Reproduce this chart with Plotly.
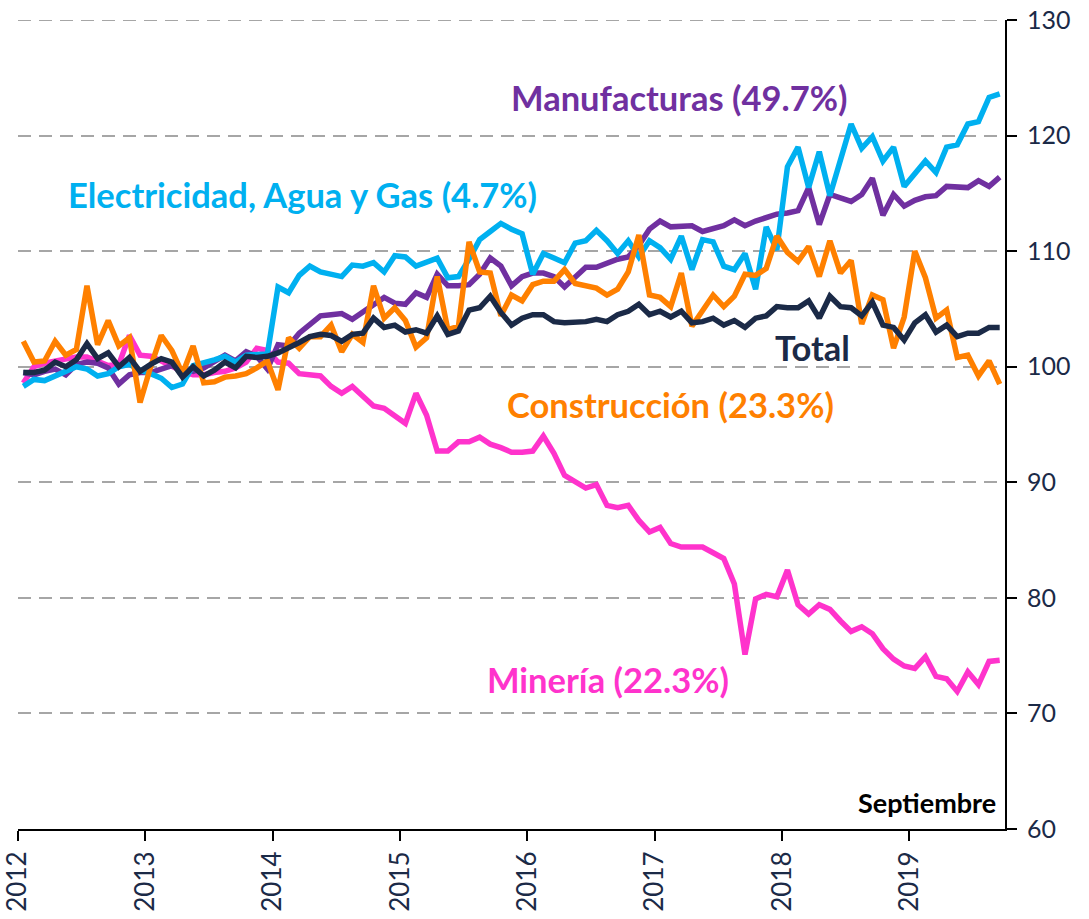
import plotly.graph_objects as go

years = ["2012", "2013", "2014", "2015", "2016", "2017", "2018", "2019"]
n_months = 93  # Jan 2012 .. Sep 2019

total = [99.5, 99.5, 99.7, 100.4, 100.0, 100.6, 102.0, 100.7, 101.2, 100.0,
         100.8, 99.6, 100.2, 100.7, 100.4, 99.1, 100.0, 99.2, 99.7, 100.4,
         99.9, 100.9, 100.8, 100.9, 101.2, 101.6, 102.1, 102.6, 102.8, 102.7,
         102.2, 102.8, 102.9, 104.2, 103.4, 103.6, 103.0, 103.2, 102.9, 104.4,
         102.8, 103.1, 104.9, 105.1, 106.1, 104.7, 103.6, 104.2, 104.5, 104.5,
         103.9, 103.8, 103.8, 103.9, 104.1, 103.9, 104.5, 104.8, 105.4, 104.5,
         104.8, 104.3, 104.8, 103.8, 103.9, 104.2, 103.6, 104.0, 103.4, 104.2,
         104.4, 105.2, 105.1, 105.1, 105.7, 104.2, 106.1, 105.2, 105.1, 104.4,
         105.6, 103.6, 103.4, 102.3, 103.8, 104.5, 103.0, 103.6, 102.6, 102.9,
         102.9, 103.4, 103.4]

manufacturas = [99.5, 99.3, 99.6, 99.8, 99.3, 100.2, 100.4, 100.3, 99.9, 98.5,
                99.3, 99.5, 99.5, 99.8, 100.1, 99.8, 99.6, 99.9, 100.5, 101.0,
                100.5, 101.3, 100.9, 99.8, 101.9, 101.8, 102.9, 103.6, 104.4, 104.5,
                104.6, 104.1, 104.7, 105.4, 106.0, 105.5, 105.4, 106.4, 106.0, 108.0,
                107.0, 107.0, 107.1, 108.0, 109.4, 108.7, 107.0, 107.8, 108.1, 108.1,
                107.8, 106.9, 107.8, 108.6, 108.6, 109.0, 109.3, 109.5, 110.5, 111.9,
                112.6, 112.1, 112.2, 112.2, 111.7, 111.9, 112.2, 112.7, 112.2, 112.6,
                112.9, 113.2, 113.3, 113.5, 115.5, 112.3, 114.9, 114.6, 114.3, 114.9,
                116.3, 113.1, 114.9, 113.9, 114.4, 114.7, 114.8, 115.6, 115.5, 115.5,
                116.1, 115.6, 116.4]

electricidad = [98.3, 98.9, 98.8, 99.2, 99.6, 100.0, 99.8, 99.2, 99.4, 100.0,
                100.2, 99.7, 99.4, 99.0, 98.2, 98.5, 100.1, 100.3, 100.6, 100.9,
                100.4, 101.0, 101.1, 101.1, 106.9, 106.4, 107.9, 108.7, 108.2, 108.0,
                107.8, 108.8, 108.7, 109.0, 108.2, 109.6, 109.5, 108.7, 109.0, 109.4,
                107.7, 107.8, 109.3, 111.0, 111.7, 112.4, 111.9, 111.5, 108.0, 109.8,
                109.4, 109.0, 110.7, 110.9, 111.8, 110.9, 109.8, 110.9, 109.5, 110.9,
                110.3, 109.3, 111.3, 108.4, 111.0, 110.8, 108.7, 108.4, 109.8, 106.7,
                112.1, 110.1, 117.3, 119.0, 115.5, 118.6, 114.8, 117.9, 121.0, 118.9,
                119.9, 117.8, 119.0, 115.6, 116.7, 117.8, 116.8, 119.0, 119.2, 121.0,
                121.2, 123.3, 123.6]

construccion = [102.2, 100.4, 100.5, 102.2, 101.0, 101.5, 107.0, 101.9, 104.0, 101.8,
                102.5, 96.9, 100.0, 102.7, 101.4, 99.4, 101.8, 98.6, 98.7, 99.1,
                99.2, 99.4, 99.9, 100.5, 98.0, 102.5, 101.6, 102.6, 102.6, 103.6,
                101.3, 102.8, 102.1, 107.0, 104.2, 105.1, 104.0, 101.7, 102.5, 107.8,
                103.2, 103.5, 110.8, 108.2, 108.1, 104.4, 106.2, 105.7, 107.1, 107.4,
                107.4, 108.4, 107.2, 107.0, 106.8, 106.2, 106.7, 108.2, 111.4, 106.2,
                106.0, 105.2, 108.1, 103.5, 104.9, 106.2, 105.2, 106.1, 108.0, 107.9,
                108.5, 111.3, 109.9, 109.1, 110.4, 107.8, 110.9, 108.1, 109.2, 103.7,
                106.2, 105.8, 101.6, 104.3, 110.0, 107.7, 104.2, 104.9, 100.8, 101.0,
                99.2, 100.5, 98.5]

mineria = [98.6, 100.0, 100.3, 100.5, 100.7, 100.85, 100.85, 100.5, 100.1, 100.2,
           102.7, 101.0, 100.9, 100.5, 100.0, 99.6, 99.3, 99.3, 99.5, 99.6,
           99.9, 100.4, 101.6, 101.4, 100.4, 100.3, 99.4, 99.3, 99.2, 98.3,
           97.7, 98.3, 97.5, 96.6, 96.4, 95.7, 95.1, 97.7, 95.8, 92.7,
           92.7, 93.5, 93.5, 93.9, 93.3, 93.0, 92.6, 92.6, 92.7, 94.0,
           92.5, 90.6, 90.0, 89.5, 89.8, 88.0, 87.8, 88.0, 86.7, 85.7,
           86.1, 84.7, 84.4, 84.4, 84.4, 83.9, 83.4, 81.2, 75.1, 79.9,
           80.3, 80.1, 82.4, 79.4, 78.6, 79.4, 79.0, 78.0, 77.1, 77.5,
           76.9, 75.6, 74.7, 74.1, 73.9, 74.9, 73.2, 73.0, 71.9, 73.6,
           72.5, 74.5, 74.6]

y_ticks = [60, 70, 80, 90, 100, 110, 120, 130]

x = list(range(n_months))
NAVY = "#1B2A47"
FONT = "Lato"
LABEL_SIZE = 34.5

series = [
    ("Minería", mineria, "#FF33CC"),
    ("Manufacturas", manufacturas, "#7030A0"),
    ("Electricidad, Agua y Gas", electricidad, "#00B0F0"),
    ("Construcción", construccion, "#FF8000"),
    ("Total", total, NAVY),
]

fig = go.Figure()
for name, vals, col in series:
    fig.add_trace(go.Scatter(x=x, y=vals, mode="lines", name=name,
                             line=dict(color=col, width=5.5),
                             hoverinfo="skip"))

labels = [
    ("Manufacturas (49.7%)", 61.8, 123.3, "#7030A0"),
    ("Electricidad, Agua y Gas (4.7%)", 26.3, 114.9, "#00B0F0"),
    ("Total", 74.4, 101.7, NAVY),
    ("Construcción (23.3%)", 61.0, 96.7, "#FF8000"),
    ("Minería (22.3%)", 55.1, 72.9, "#FF33CC"),
]
for txt, ax, ay, col in labels:
    fig.add_annotation(x=ax, y=ay, xref="x", yref="y", text="<b>%s</b>" % txt,
                       showarrow=False, xanchor="center", yanchor="middle",
                       font=dict(family=FONT, size=LABEL_SIZE, color=col))

fig.add_annotation(x=91.8, y=62.3, xref="x", yref="y", text="<b>Septiembre</b>",
                   showarrow=False, xanchor="right", yanchor="middle",
                   font=dict(family=FONT, size=27, color="#000000"))

# dashed gridline at the top of the range (130)
fig.add_shape(type="line", xref="paper", yref="y", x0=0, x1=1, y0=130, y1=130,
              line=dict(color="#A6A6A6", width=2, dash="13px,8px"), layer="below")

fig.update_layout(
    width=1089, height=919,
    margin=dict(l=18, r=84, t=20, b=90),
    paper_bgcolor="white", plot_bgcolor="white",
    showlegend=False,
    font=dict(family=FONT, color=NAVY),
)
fig.update_xaxes(
    range=[-0.5, n_months - 0.5],
    tickmode="array",
    tickvals=[-0.5 + 12 * k for k in range(len(years))],
    ticktext=years,
    tickangle=-90,
    ticks="outside", ticklen=10, tickwidth=2, tickcolor="black",
    showline=True, linecolor="black", linewidth=2,
    showgrid=False, zeroline=False, automargin=False,
    ticklabeloverflow="allow",
    tickfont=dict(family=FONT, size=26, color=NAVY),
)
fig.update_yaxes(
    range=[60, 130], side="right",
    tickmode="array", tickvals=y_ticks,
    ticks="outside", ticklen=10, tickwidth=2, tickcolor="black",
    showline=True, linecolor="black", linewidth=2,
    showgrid=True, gridcolor="#A6A6A6", gridwidth=2, griddash="13px,8px",
    zeroline=False, automargin=False, ticklabelstandoff=5,
    ticklabeloverflow="allow",
    tickfont=dict(family=FONT, size=25, color=NAVY),
)

# remove the page's default body margin so the figure sits at the window origin
fig.write_html("out.html",
               config={"displayModeBar": False},
               post_script="document.body.style.margin='0';document.body.style.overflow='hidden';")
